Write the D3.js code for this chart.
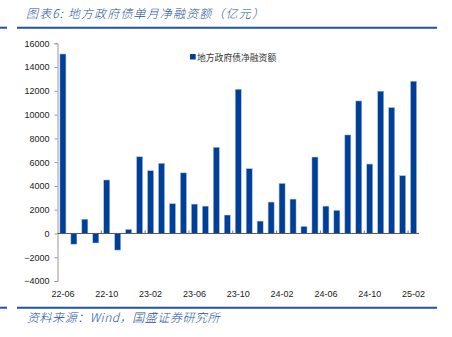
<!DOCTYPE html>
<html><head><meta charset="utf-8">
<script src="https://cdn.jsdelivr.net/npm/d3@7"></script>
<style>html,body{margin:0;padding:0;background:#fff;}svg{display:block;}</style>
</head><body>
<svg id="c" width="452" height="337"></svg>
<script>
const categories = ["22-06","22-07","22-08","22-09","22-10","22-11","22-12",
  "23-01","23-02","23-03","23-04","23-05","23-06","23-07","23-08","23-09","23-10","23-11","23-12",
  "24-01","24-02","24-03","24-04","24-05","24-06","24-07","24-08","24-09","24-10","24-11","24-12",
  "25-01","25-02"];
const netFinancing = [15100,-900,1200,-800,4500,-1400,340,
  6450,5280,5900,2500,5100,2470,2300,7250,1550,12130,5450,1040,
  2640,4210,2890,590,6430,2300,1940,8290,11150,5840,11970,10590,
  4860,12810];
const yTicks = [-4000,-2000,0,2000,4000,6000,8000,10000,12000,14000,16000];
const xTickLabels = ["22-06","22-10","23-02","23-06","23-10","24-02","24-06","24-10","25-02"];
const seriesName = "地方政府债净融资额";
const titleText = "图表6:  地方政府债单月净融资额（亿元）";
const sourceText = "资料来源：Wind，国盛证券研究所";

const svg = d3.select("#c");
const pLeft = 57.5, pRight = 419, pTop = 43.3, pBottom = 281;
const x = d3.scaleBand().domain(categories).range([pLeft, pRight]).paddingInner(0.45).paddingOuter(0.22);
const y = d3.scaleLinear().domain([-4000, 16000]).range([pBottom, pTop]);
const blue = "#2152a3";

// title
svg.append("text").attr("x", 26).attr("y", 18).attr("fill", blue)
  .attr("font-family", "Noto Sans CJK SC").attr("font-style", "italic").attr("font-size", 12)
  .attr("letter-spacing", 1.15).attr("font-weight", 300)
  .text(titleText);
// rules
[27.7, 307.7].forEach(yy => {
  svg.append("line").attr("x1", 0).attr("x2", 7).attr("y1", yy).attr("y2", yy).attr("stroke", blue).attr("stroke-width", 2);
  svg.append("line").attr("x1", 17).attr("x2", 437).attr("y1", yy).attr("y2", yy).attr("stroke", blue).attr("stroke-width", 2);
});
// source
svg.append("text").attr("x", 27).attr("y", 322).attr("fill", blue)
  .attr("font-family", "Noto Sans CJK SC").attr("font-style", "italic").attr("font-size", 12)
  .attr("letter-spacing", 0.55).attr("font-weight", 300)
  .text(sourceText);

// y axis
const yAxis = d3.axisLeft(y).tickValues(yTicks).tickSize(3).tickFormat(d3.format("d"));
const ga = svg.append("g").attr("transform", `translate(${pLeft},0)`).call(yAxis);
ga.select(".domain").attr("stroke", "#999");
ga.selectAll(".tick line").attr("stroke", "#999");
ga.selectAll(".tick text").attr("font-family", "Liberation Sans, Arial").attr("font-size", 9).attr("fill", "#222").attr("x", -8);

// bars
svg.append("g").selectAll("rect").data(netFinancing).join("rect")
  .attr("x", (d, i) => x(categories[i]))
  .attr("width", x.bandwidth())
  .attr("y", d => y(Math.max(0, d)))
  .attr("height", d => Math.abs(y(d) - y(0)))
  .attr("fill", "#003f98")
  .attr("stroke", "#a9c0e6").attr("stroke-width", 0.5);

// zero line
svg.append("line").attr("x1", pLeft).attr("x2", pRight).attr("y1", y(0)).attr("y2", y(0)).attr("stroke", "#555").attr("stroke-width", 1);
// small ticks on zero line
const step = x.step();
xTickLabels.forEach((lab, k) => {
  if (k === 0) return;
  const xx = x(lab) - (step - x.bandwidth()) / 2;
  svg.append("line").attr("x1", xx).attr("x2", xx).attr("y1", y(0) - 3).attr("y2", y(0)).attr("stroke", "#777").attr("stroke-width", 1);
});
// x labels
svg.append("g").selectAll("text").data(xTickLabels).join("text")
  .attr("x", d => x(d) + x.bandwidth() / 2).attr("y", 297)
  .attr("text-anchor", "middle").attr("font-family", "Liberation Sans, Arial").attr("font-size", 9).attr("fill", "#222")
  .text(d => d);

// legend
svg.append("rect").attr("x", 190).attr("y", 54).attr("width", 5.7).attr("height", 5.5).attr("fill", "#003f98");
svg.append("text").attr("x", 197).attr("y", 60.5).attr("font-family", "Noto Sans CJK SC").attr("font-size", 8.8).attr("fill", "#333").text(seriesName);
</script>
</body></html>
